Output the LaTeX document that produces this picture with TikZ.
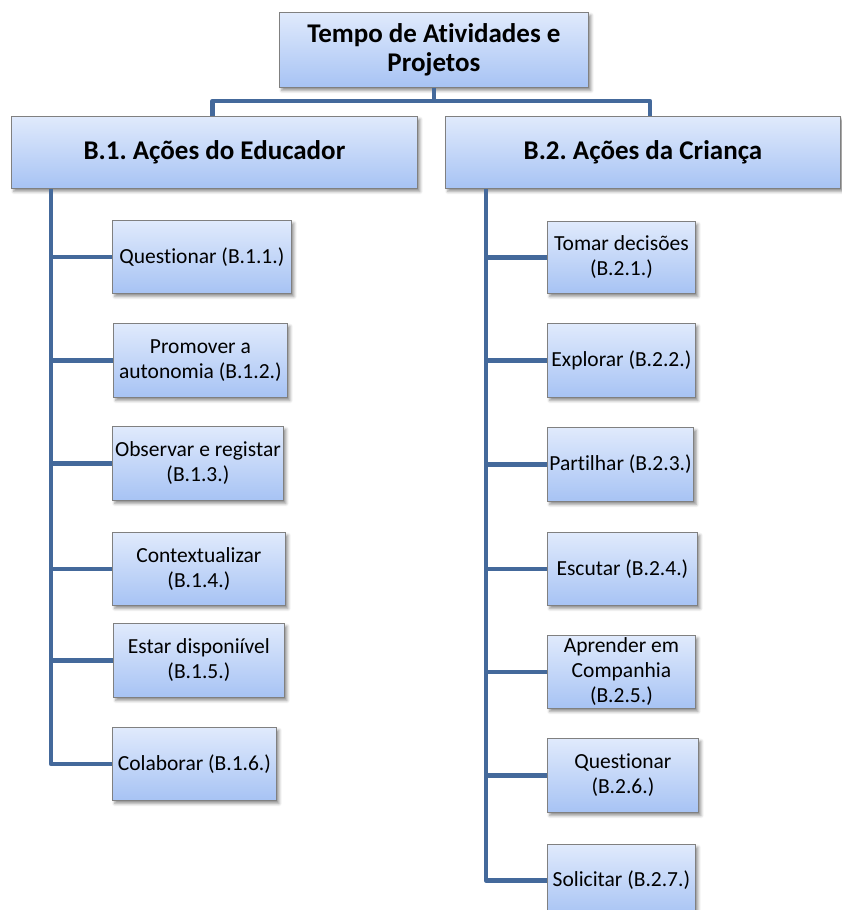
\documentclass[tikz,border=0pt]{standalone}
\usepackage{fontspec}
\setmainfont{Carlito}[Ligatures=NoCommon]
\frenchspacing
\usetikzlibrary{shadows.blur}

\definecolor{conn}{HTML}{44699B}
\definecolor{boxtop}{HTML}{E0EAFC}
\definecolor{boxbot}{HTML}{A7C3F4}
\definecolor{boxline}{HTML}{808080}

\tikzset{
  box/.style={draw=boxline, line width=0.8pt, top color=boxtop, bottom color=boxbot,
    anchor=north west, align=center, inner sep=2pt,
    blur shadow={shadow xshift=2.5pt, shadow yshift=-3pt, shadow blur radius=3pt, shadow opacity=45}},
  head/.style={box, font=\bfseries\fontsize{27}{28.5}\selectfont},
  leaf/.style={box, font=\fontsize{21.5}{25}\selectfont},
  link/.style={draw=conn, line width=4.5pt, line join=round}
}

\begin{document}
\begin{tikzpicture}[x=1pt, y=-1pt]
\useasboundingbox (0,0) rectangle (842,910);

% root and the two branches
\node[head, minimum width=309pt, minimum height=75pt] (root) at (279,12) {Tempo de Atividades e\\Projetos};
\node[head, minimum width=406pt, minimum height=72pt] (b1) at (11,116) {B.1. Ações do Educador};
\node[head, minimum width=395pt, minimum height=72pt] (b2) at (445,116) {B.2. Ações da Criança};

% actions of the educator
\node[leaf, minimum width=179pt, minimum height=73pt] (l1) at (112,220) {Questionar (B.1.1.)};
\node[leaf, minimum width=174pt, minimum height=74pt] (l2) at (113,323) {Promover a\\autonomia (B.1.2.)};
\node[leaf, minimum width=171pt, minimum height=74pt] (l3) at (112,426) {Observar e registar\\(B.1.3.)};
\node[leaf, minimum width=173pt, minimum height=73pt] (l4) at (112,532) {Contextualizar\\(B.1.4.)};
\node[leaf, minimum width=171pt, minimum height=74pt] (l5) at (113,623) {Estar disponiível\\(B.1.5.)};
\node[leaf, minimum width=164pt, minimum height=73pt] (l6) at (112,727) {Colaborar (B.1.6.)};

% actions of the child
\node[leaf, minimum width=148pt, minimum height=72pt] (r1) at (547,221) {Tomar decisões\\(B.2.1.)};
\node[leaf, minimum width=148pt, minimum height=74pt] (r2) at (547,323) {Explorar (B.2.2.)};
\node[leaf, minimum width=146pt, minimum height=74pt] (r3) at (547,427) {Partilhar (B.2.3.)};
\node[leaf, minimum width=150pt, minimum height=73pt] (r4) at (547,532) {Escutar (B.2.4.)};
\node[leaf, minimum width=148pt, minimum height=73pt] (r5) at (547,635) {Aprender em\\Companhia\\(B.2.5.)};
\node[leaf, minimum width=151pt, minimum height=74pt] (r6) at (547,738) {Questionar\\(B.2.6.)};
\node[leaf, minimum width=148pt, minimum height=72pt] (r7) at (547,844) {Solicitar (B.2.7.)};

% connectors from the root
\draw[link] (root.south) -- ++(0,14);
\draw[link] ([xshift=-2pt]b1.north) -- ++(0,-15) -| ([xshift=7pt]b2.north);

% trunks and branches
\coordinate (lt) at ([xshift=40pt]b1.south west);
\coordinate (rt) at ([xshift=41pt]b2.south west);
\draw[link] (lt) |- (l6.west);
\draw[link] (rt) |- (r7.west);
\foreach \n in {l1,l2,l3,l4,l5} \draw[link] (\n.west -| lt) -- (\n.west);
\foreach \n in {r1,r2,r3,r4,r5,r6} \draw[link] (\n.west -| rt) -- (\n.west);
\end{tikzpicture}
\end{document}
